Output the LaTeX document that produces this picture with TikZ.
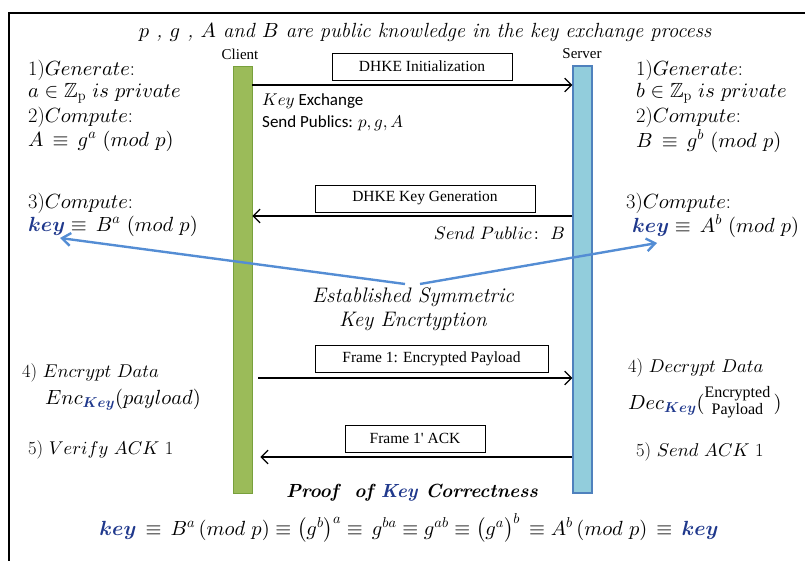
\documentclass[tikz,border=0pt]{standalone}
\usepackage{amsmath,amssymb}
\usepackage{fontspec}
\usetikzlibrary{positioning,arrows.meta}
\DeclareFontShape{OML}{cmm}{m}{it}{<->cmmi10}{}
\DeclareFontShape{OML}{cmm}{b}{it}{<->cmmib10}{}
\DeclareFontShape{OMS}{cmsy}{m}{n}{<->cmsy10}{}
\DeclareFontShape{OMS}{cmsy}{b}{n}{<->cmbsy10}{}
\DeclareFontShape{OMX}{cmex}{m}{n}{<->cmex10}{}
\DeclareFontShape{OT1}{cmr}{m}{n}{<->cmr10}{}
\newfontfamily\timesf{Liberation Serif}
\newfontfamily\calibrif{Carlito}
\definecolor{keyblue}{RGB}{31,56,140}
\definecolor{arrowblue}{RGB}{84,141,212}
\definecolor{clientgreen}{RGB}{155,187,89}
\definecolor{clientedge}{RGB}{120,160,60}
\definecolor{serverblue}{RGB}{146,205,220}
\definecolor{serveredge}{RGB}{79,129,189}
\newcommand{\keyword}{\textcolor{keyblue}{\boldsymbol{key}}}
\newcommand{\keycap}{\textcolor{keyblue}{\boldsymbol{Key}}}

\begin{document}
\begin{tikzpicture}[x=1pt,y=-1pt,>={Straight Barb[length=2.4mm]},
  step text/.style={anchor=west,inner sep=0pt,font=\fontsize{20.5}{24}\selectfont},
  small step/.style={step text,font=\fontsize{18.5}{22}\selectfont},
  frame box/.style={draw,line width=0.6pt,minimum height=27pt,inner sep=2pt,font=\timesf\fontsize{15.5}{17}\selectfont},
  msg/.style={->,line width=1.3pt},
  keyflow/.style={->,line width=2.4pt,arrowblue,>={Straight Barb[length=3mm,width=4.5mm]}}]
\useasboundingbox (0,0) rectangle (805,561);
\draw[line width=2.5pt] (9,561) -- (9,13) -- (805,13);

% title
\node (title) at (425,32) {\fontsize{20.5}{24}\selectfont\itshape $p$ , $g$ , $A$ and $B$ are public knowledge in the key exchange process};

% parties
\node (client) [draw=clientedge,fill=clientgreen,line width=0.8pt,minimum width=19pt,minimum height=427pt,inner sep=0pt] at (242.5,279.5) {};
\node (server) [draw=serveredge,fill=serverblue,line width=1.2pt,minimum width=19pt,minimum height=427pt,inner sep=0pt] at (582.5,279.5) {};
\node (clientlbl) [font=\timesf\fontsize{15}{17}\selectfont] at (240,54) {Client};
\node (serverlbl) [font=\timesf\fontsize{15}{17}\selectfont] at (582,54) {Server};

% client steps
\node (c1) [step text] at (28,70) {1)$Generate$:};
\node (c2) [step text] at (28,93) {$a \in \mathbb{Z}_{\mathrm{p}}\ is\ private$};
\node (c3) [step text] at (28,117) {2)$Compute$:};
\node (c4) [step text] at (28,141) {$A \,\equiv\, g^{a}\ (mod\ p)$};
\node (c5) [step text] at (28,203) {3)$Compute$:};
\node (c6) [step text] at (28,226) {$\keyword \equiv\, B^{a}\ (mod\ p)$};
\node (c7) [small step] at (22,373) {4) $Encrypt\ Data$};
\node (c8) [step text] at (45,400) {$Enc_{\keycap}(payload)$};
\node (c9) [small step] at (28,450) {5) $Verify\ ACK$ 1};

% server steps
\node (s1) [step text] at (636,70) {1)$Generate$:};
\node (s2) [step text] at (636,93) {$b \in \mathbb{Z}_{\mathrm{p}}\ is\ private$};
\node (s3) [step text] at (636,117) {2)$Compute$:};
\node (s4) [step text] at (636,141) {$B \,\equiv\, g^{b}\ (mod\ p)$};
\node (s5) [step text] at (626,203) {3)$Compute$:};
\node (s6) [step text] at (632,226) {$\keyword \equiv\, A^{b}\ (mod\ p)$};
\node (s7) [small step] at (628,368) {4) $Decrypt\ Data$};
\node (s8) [step text] at (628,402) {$Dec_{\keycap}($\raisebox{-0.6ex}{\timesf\fontsize{16}{12}\selectfont\shortstack{Encrypted\\Payload}}\,$)$};
\node (s9) [small step] at (636,452) {5) $Send\ ACK$ 1};

% messages
\node (init) [frame box,minimum width=180pt] at (422,66.5) {DHKE Initialization};
\node (gen) [frame box,minimum width=220pt] at (425,198.5) {DHKE Key Generation};
\node (frame1) [frame box,minimum width=233pt] at (431.5,358.5) {Frame 1: Encrypted Payload};
\node (ack) [frame box,minimum width=140pt] at (415,438.5) {Frame 1' ACK};
\coordinate (y1) at (0,85);
\coordinate (y2) at (0,216);
\coordinate (y3) at (0,378);
\coordinate (y4) at (0,457);
\draw[msg] (client.east |- y1) -- (server.west |- y1);
\draw[msg] (server.west |- y2) -- (client.east |- y2);
\draw[msg] ([xshift=6pt]client.east |- y3) -- (server.west |- y3);
\draw[msg] (server.west |- y4) -- ([xshift=8pt]client.east |- y4);
\node (publics) [anchor=west,align=left,inner sep=0pt,font=\calibrif\fontsize{17}{22}\selectfont] at (262,112) {$Key$ Exchange\\Send Publics: $p, g, A$};
\node (public) [anchor=east,inner sep=0pt,font=\fontsize{18}{20}\selectfont] at (565,233) {$Send\ Public\colon\ B$};

% shared key
\node (sym) [align=center,font=\fontsize{21}{24}\selectfont\itshape] at (413,309) {Established Symmetric\\Key Encrtyption};
\coordinate (symL) at (405,284);
\coordinate (symR) at (420,284);
\coordinate (keyL) at (60,238);
\coordinate (keyR) at (657,243);
\draw[keyflow] (symL) -- (keyL);
\draw[keyflow] (symR) -- (keyR);

% proof
\node (proof) [inner sep=0pt,font=\fontsize{19}{22}\selectfont\bfseries\itshape] at (412,493) {Proof\ \ of \textcolor{keyblue}{Key} Correctness};
\node (eq) [inner sep=0pt,font=\fontsize{20.5}{22}\selectfont] at (409,528) {$\keyword \,\equiv\, B^{a}\,(mod\ p) \equiv \bigl(g^{b}\bigr)^{a} \equiv\, g^{ba} \equiv g^{ab} \equiv \bigl(g^{a}\bigr)^{b} \,\equiv A^{b}\,(mod\ p) \,\equiv\, \keyword$};
\end{tikzpicture}
\end{document}
